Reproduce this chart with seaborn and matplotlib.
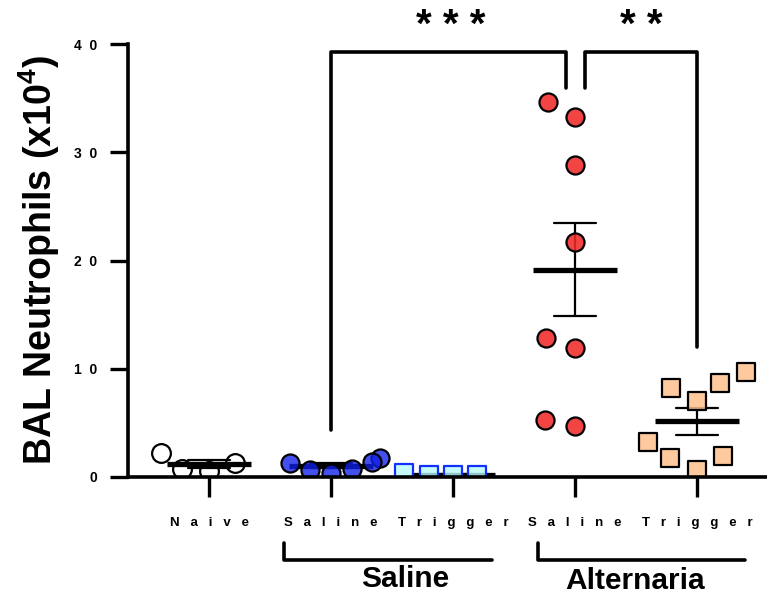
import numpy as np
import pandas as pd
import matplotlib
matplotlib.use("Agg")
import matplotlib.pyplot as plt
from matplotlib.path import Path
from matplotlib.colors import to_rgba
import seaborn as sns

# ---------------- data ----------------
groups = ["Naive", "Saline-Saline", "Saline-Trigger", "Alternaria-Saline", "Alternaria-Trigger"]
tick_labels = ["N   a   i   v   e", "S   a   l   i   n   e", "T   r   i   g   g   e   r",
               "S   a   l   i   n   e", "T   r   i   g   g   e   r"]
naive = [0.6, 2.2, 0.7, 1.3]
saline_saline = [0.65, 1.8, 0.7, 1.4, 0.4, 1.25]
saline_trigger = [0.15, 0.35, 0.15, 0.15]
alt_saline = [33.3, 34.6, 28.8, 21.7, 11.9, 12.8, 4.7, 5.3]
alt_trigger = [8.2, 8.65, 9.7, 7.0, 3.2, 1.9, 1.8, 0.65]
y_ticks = [0, 10, 20, 30, 40]
y_tick_labels = ["0", "1  0", "2  0", "3  0", "4  0"]
ylabel = "BAL Neutrophils (x10$^{\\mathbf{4}}$)"
group_names = ["Saline", "Alternaria"]
stars = ["* * *", "* *"]

values = [naive, saline_saline, saline_trigger, alt_saline, alt_trigger]
df = pd.DataFrame({
    "group": np.repeat(groups, [len(v) for v in values]),
    "value": np.concatenate(values),
})


def padded(kind, scale):
    """Marker whose drawn glyph is 1/scale of its nominal size (wider swarm spacing)."""
    if kind == "o":
        base = Path.unit_circle()
    else:
        base = Path([(-1, -1), (1, -1), (1, 1), (-1, 1), (-1, -1)],
                    [Path.MOVETO, Path.LINETO, Path.LINETO, Path.LINETO, Path.CLOSEPOLY])
    verts = np.vstack([[[1.0, 1.0]], base.vertices / scale])
    codes = np.concatenate([[Path.MOVETO], base.codes])
    return Path(verts, codes)


styles = {
    "Naive": dict(marker="o", face=(1, 1, 1, 0.0), edge="black", size=13.5, spread=1.25),
    "Saline-Saline": dict(marker="o", face=to_rgba("#0f1fe8", 0.78), edge="black", size=13, spread=1.0),
    "Saline-Trigger": dict(marker="s", face=to_rgba("#b8fbfb", 0.8), edge="#1030ff", size=13.5, spread=1.12),
    "Alternaria-Saline": dict(marker="o", face=to_rgba("#f22a2a", 0.88), edge="black", size=13, spread=1.5),
    "Alternaria-Trigger": dict(marker="s", face=to_rgba("#fdc08c", 0.85), edge="black", size=12.5, spread=1.5),
}

# ---------------- figure ----------------
sns.set_theme(style="ticks")
plt.rcParams["font.family"] = ["Liberation Sans", "DejaVu Sans"]
plt.rcParams["font.weight"] = "bold"
for k in ["text.color", "axes.labelcolor", "xtick.color", "ytick.color", "axes.edgecolor"]:
    plt.rcParams[k] = "black"
plt.rcParams["mathtext.fontset"] = "custom"
plt.rcParams["mathtext.bf"] = "Liberation Sans:bold"
plt.rcParams["mathtext.rm"] = "Liberation Sans:bold"

fig = plt.figure(figsize=(7.67, 5.99), dpi=100)
ax = fig.add_axes([128 / 767, 1 - 477 / 599, (767 - 128) / 767, (477 - 44) / 599])

sns.pointplot(data=df, x="group", y="value", order=groups, errorbar="se",
              color="black", marker="_", linestyle="none", markersize=61,
              markeredgewidth=3.8, capsize=0.34, err_kws={"linewidth": 1.6},
              ax=ax, zorder=3)

for g in groups:
    st = styles[g]
    n_before = len(ax.collections)
    sns.swarmplot(data=df[df["group"] == g], x="group", y="value", order=groups,
                  marker=padded(st["marker"], st["spread"]), color=st["face"][:3],
                  edgecolor=st["edge"], linewidth=1.6, size=st["size"] * st["spread"],
                  ax=ax, zorder=4)
    for coll in ax.collections[n_before:]:
        coll.set_alpha(None)
        coll.set_facecolor(st["face"])
        coll.set_edgecolor(st["edge"])

ax.set_xlim(-0.664, 4.574)
ax.set_ylim(0, 40)
ax.set_yticks(y_ticks)
ax.set_yticklabels(y_tick_labels, fontsize=10, fontweight="bold")
ax.set_xticks(range(len(groups)))
ax.set_xticklabels(tick_labels, fontsize=9.5, fontweight="bold")
ax.set_xlabel("")
ax.set_ylabel(ylabel, fontsize=27, fontweight="bold")
ax.yaxis.set_label_coords(-0.103, 0.5)

sns.despine(ax=ax)
for s in ["left", "bottom"]:
    ax.spines[s].set_linewidth(2.6)
    ax.spines[s].set_zorder(5)
ax.tick_params(axis="y", length=13, width=2.4, pad=9, color="black")
ax.tick_params(axis="x", length=14.5, width=2.4, pad=14, color="black")

# significance brackets
lw = 2.6
kw = dict(color="black", linewidth=lw, clip_on=False, solid_capstyle="round", zorder=6)
ax.plot([1, 1, 2.93, 2.93], [4.3, 39.25, 39.25, 35.9], **kw)
ax.plot([3.08, 3.08, 4.0, 4.0], [35.9, 39.25, 39.25, 12.0], **kw)
ax.text(1.98, 40.65, stars[0], ha="center", va="baseline", fontsize=29, fontweight="bold")
ax.text(3.545, 40.65, stars[1], ha="center", va="baseline", fontsize=29, fontweight="bold")

# group brackets below axis
ax.plot([0.615, 0.615, 2.32], [-6.1, -7.67, -7.67], **kw)
ax.plot([2.70, 2.70, 4.39], [-6.1, -7.67, -7.67], **kw)
ax.text(1.61, -9.4, group_names[0], ha="center", va="center", fontsize=21.5, fontweight="bold")
ax.text(3.49, -9.6, group_names[1], ha="center", va="center", fontsize=21.5, fontweight="bold")

fig.savefig("out.png", dpi=100)
